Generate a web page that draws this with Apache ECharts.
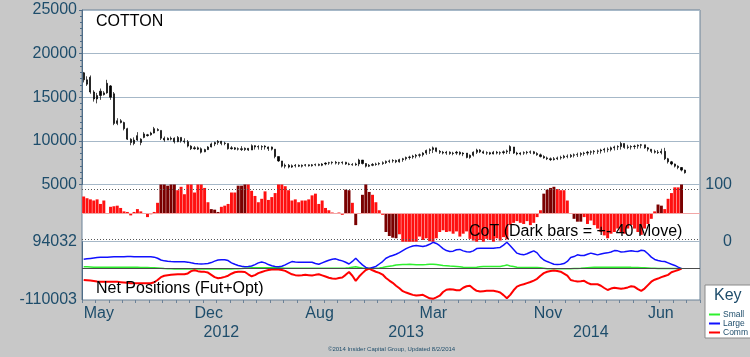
<!DOCTYPE html>
<html><head><meta charset="utf-8">
<script src="https://cdn.jsdelivr.net/npm/echarts@6/dist/echarts.min.js"></script>
<style>html,body{margin:0;padding:0;background:#c8c8c8;}#c{width:750px;height:357px;}</style>
</head><body><div id="c"></div>
<script>
// ---------- data ----------
const categoryCount = 184; // weekly slots (last ones empty)
const weeks = [];
for (let i = 0; i < categoryCount; i++) {
  weeks.push(new Date(Date.UTC(2011, 4, 3 + 7 * i)).toISOString().slice(0, 10));
}
const monthTickIndex = [0, 33, 66, 100, 134, 168];
const monthTickText = ['May', 'Dec', 'Aug', 'Mar', 'Nov', 'Jun'];
const yearTickIndex = [41, 96, 151];
const yearTickText = ['2012', '2013', '2014'];
const priceTicks = [5000, 10000, 15000, 20000, 25000];
const netTickValues = [-110003, 94032];

const priceOpen = [
17800,17000,17300,15600,14800,15200,15300,15500,16300,15400,
12000,12300,12100,11400,10200,9700,10100,9800,10400,10600,
10700,10900,11300,11200,10300,10100,10300,10300,9900,10400,
10000,9900,9400,9100,9200,9100,8750,9000,9300,9650,
9800,9950,9700,9700,9100,9200,9050,9100,9000,9150,
8950,9450,9300,9350,9300,9300,9300,9050,8200,7700,
7100,7200,7000,7150,7200,7100,7200,7250,7150,7250,
7300,7200,7350,7450,7500,7550,7450,7500,7550,7350,
7300,7250,7350,7800,7400,7100,7200,7300,7350,7400,
7500,7650,7700,7750,7600,7850,7950,8100,8150,8250,
8350,8400,8600,8900,9000,9200,8800,8700,8600,8700,
8550,8600,8700,8500,8600,8100,8350,8700,8950,8750,
8600,8650,8500,8700,8600,8650,8750,8850,9300,8600,
8500,8600,8650,8700,8750,8550,8400,8200,8050,7950,
7850,7950,8050,8100,8250,8200,8350,8400,8450,8550,
8600,8700,8750,8800,8850,8950,9050,9000,9200,9300,
9350,9700,9250,9300,9350,9400,9500,9550,9200,9050,
8800,8700,8650,8800,7950,7600,7350,7100,6950,6650];
const priceClose = [
17000,16500,15600,14800,15200,15700,15500,16600,15000,12000,
12300,12100,11400,10200,9800,10100,10600,10200,10800,10700,
10900,11400,11200,10300,10100,10300,10200,9900,10400,10000,
9900,9400,9100,9200,9050,8700,9000,9300,9650,9800,
9950,9700,9750,9100,9200,9050,9100,9000,9150,8950,
9450,9300,9350,9300,9400,9100,9050,8200,7700,7100,
7200,7000,7150,7200,7100,7200,7250,7150,7250,7300,
7200,7350,7450,7500,7550,7450,7500,7550,7350,7300,
7250,7350,7800,7400,7100,7200,7300,7350,7400,7500,
7650,7700,7750,7600,7850,7950,8100,8150,8250,8350,
8400,8600,8900,9000,9200,8800,8700,8600,8700,8550,
8600,8700,8500,8600,8100,8350,8700,8950,8750,8600,
8650,8500,8700,8600,8650,8750,8850,9350,8600,8500,
8600,8650,8700,8750,8550,8400,8200,8050,7950,7850,
7950,8050,8100,8250,8200,8350,8400,8450,8550,8600,
8700,8750,8800,8850,8950,9050,9000,9200,9300,9350,
9700,9250,9300,9350,9400,9500,9550,9200,9050,8800,
8700,8650,8800,7950,7600,7350,7100,6950,6650,6350];
const priceLow = [
16700,16300,15400,14500,14300,14700,15200,15400,14700,11800,
11800,12000,11200,10100,9500,9500,10000,9500,10300,10500,
10600,10850,11100,10100,9900,10100,10050,9700,9850,9800,
9700,9250,8950,9000,8950,8550,8700,8950,9250,9400,
9550,9500,9500,9000,9000,8950,8900,8850,8850,8850,
8950,9000,9000,8950,9000,8850,8900,8000,7600,6950,
6850,6850,6900,6950,7000,6950,7050,7050,7050,7100,
7100,7100,7200,7250,7300,7300,7250,7300,7250,7200,
7150,7150,7100,7300,6950,7000,7100,7150,7200,7250,
7350,7450,7500,7450,7500,7600,7750,7850,7950,8000,
8100,8200,8400,8500,8600,8700,8500,8450,8400,8400,
8350,8400,8350,8250,8000,7950,8200,8500,8600,8500,
8400,8400,8450,8450,8400,8450,8500,8500,8500,8350,
8350,8400,8450,8500,8450,8300,8100,7950,7800,7700,
7750,7800,7850,7950,8000,8050,8100,8150,8200,8300,
8350,8400,8450,8500,8550,8650,8700,8800,8900,8950,
9000,9100,9050,9000,9050,9100,9150,9100,8800,8600,
8550,8500,8450,7800,7400,7200,6950,6750,6500,6250];
const priceHigh = [
17900,17400,17500,15800,15500,16000,15700,17000,16400,15600,
12600,12500,12200,11500,10300,10400,11000,10300,11000,10800,
11050,11600,11450,11200,10500,10400,10500,10400,10550,10400,
10300,10100,9500,9400,9350,9250,9100,9400,9800,9900,
10100,10000,9900,9700,9400,9300,9250,9400,9250,9150,
9600,9500,9500,9500,9500,9350,9350,9050,8200,7700,
7400,7350,7300,7350,7300,7300,7350,7300,7350,7400,
7400,7450,7550,7600,7650,7700,7600,7650,7600,7500,
7450,7500,7950,7800,7450,7350,7450,7500,7550,7650,
7750,7850,7900,7850,7950,8050,8200,8300,8400,8500,
8550,8700,9000,9150,9350,9200,8950,8850,8850,8800,
8750,8850,8800,8700,8600,8450,8800,9100,9050,8900,
8800,8750,8850,8850,8800,8900,9000,9500,9300,8750,
8700,8800,8850,8900,8850,8700,8550,8350,8200,8100,
8150,8200,8300,8400,8450,8500,8550,8650,8700,8750,
8850,8900,8950,9000,9100,9200,9250,9350,9450,9500,
9900,9700,9550,9500,9550,9600,9650,9550,9300,9050,
9000,8950,9100,9200,8050,7700,7400,7200,7000,6700];

// CoT index (0-100), bars drawn from the 50 line
const cotIndex = [
79,76,74,72,74,66,72,50,61,62,
63,59,53,52,46,52,57,53,49,43,
48,52,68,100,100,98,100,100,90,96,
83,100,100,86,100,100,94,69,57,56,
52,61,63,66,86,86,98,98,100,100,
89,80,69,75,88,73,78,85,100,100,
97,90,72,74,69,72,72,74,81,84,
66,72,59,55,51,49,51,47,91,90,
68,29,49,82,100,87,82,69,55,47,
17,10,7,6,13,0,0,0,0,0,
9,3,6,1,0,6,17,20,17,18,
14,18,9,14,18,5,2,0,3,0,
5,3,0,6,2,8,4,29,33,36,
33,31,36,29,33,43,55,84,91,94,
96,92,90,90,72,50,40,35,35,43,
31,37,29,23,17,11,6,14,17,23,
17,14,23,29,23,17,12,23,31,40,
53,65,63,57,75,85,95,95,100,null];
// weeks whose CoT move was +-40 (dark bars)
const cotDarkWeeks = [23,24,25,26,27,38,39,40,46,47,48,78,79,81,83,84,85,90,91,92,93,137,138,139,140,146,147,148,171,172,178];

const netLarge = [
32500,34000,35500,37000,38500,39400,39500,40000,40500,41000,
41500,41500,41500,41800,42000,41500,41500,41500,41500,41500,
41000,40000,36000,30000,27000,25500,24500,24000,24000,24000,
23500,22500,20000,18000,16500,16000,16500,18000,21000,26000,
30000,31000,31000,28000,20000,15000,11000,8000,6500,7000,
9000,14000,20000,23000,20000,14000,10000,7500,6500,8000,
12800,19000,24500,23000,22000,22000,22000,22000,22000,18000,
15000,20000,24500,29000,32500,34000,30000,27000,22000,16000,
25000,36000,24000,12800,4000,500,4000,7500,16000,24500,
36000,42000,46000,50000,56000,63000,70000,75000,79000,80500,
79000,77000,80000,85000,92000,88000,80000,70000,63000,60000,
61000,66000,67000,62000,59000,58000,62000,70000,71000,71000,
71000,71000,71500,72500,74000,82000,92000,80000,67000,54000,
50000,48000,52000,57000,62000,55000,40000,30000,24500,20000,
15000,14500,15000,17500,25000,38500,42000,48000,46000,45500,
50000,54000,51000,48000,51000,53700,55000,58000,63000,62000,
58000,59000,61000,62000,60500,60000,64000,62000,52000,40000,
32000,28000,26000,24500,20000,15000,11000,5000,0,null];
const netComm = [
-40000,-41000,-42000,-43500,-45000,-46000,-46000,-46000,-46000,-46000,
-46500,-47500,-48500,-50000,-51000,-51600,-51600,-51600,-51600,-51600,
-51600,-48000,-40000,-30000,-25000,-23000,-22000,-21000,-20000,-19500,
-20000,-17000,-9000,-6000,-9000,-11000,-11500,-14000,-22000,-30000,
-34000,-32000,-29000,-25000,-18000,-13000,-11000,-11000,-12000,-20000,
-27000,-23000,-16000,-12000,-8000,-5000,-3500,-2500,-3000,-5000,
-8000,-14000,-20000,-23000,-24500,-23500,-22000,-23000,-24500,-22000,
-20000,-24000,-28000,-32000,-35000,-36000,-33000,-31000,-22000,-12000,
-25000,-43000,-28000,-16000,-5000,0,-6000,-11000,-15000,-21000,
-33000,-42000,-50000,-60000,-69000,-79000,-84000,-88000,-92000,-94500,
-93000,-92000,-98000,-104000,-106000,-101000,-95000,-82000,-74000,-72000,
-73000,-76000,-76000,-67000,-62000,-60000,-70000,-78000,-80000,-79000,
-78000,-78000,-78000,-80000,-84000,-93000,-104000,-92000,-76000,-63000,
-58000,-55000,-51000,-47000,-42000,-36000,-25000,-16000,-11000,-8500,
-7000,-8500,-11000,-18000,-25000,-40000,-43000,-45500,-44500,-43000,
-50000,-55000,-55000,-55000,-60000,-68000,-75000,-70000,-67000,-69000,
-71000,-69000,-66000,-62000,-64000,-72000,-78000,-70000,-58000,-46000,
-39000,-35000,-30000,-26000,-22000,-13000,-9000,-5000,0,null];
const netSmall = [
6500,6000,5500,5000,4800,4500,4500,4500,4500,4500,
4500,4500,4500,4500,4500,4500,4500,4000,4000,3500,
3000,2500,2000,1000,0,-500,-1000,-1500,-1500,-1500,
-1500,-1500,-1500,-1500,-1500,-1500,-1500,-1500,-1500,-1500,
-1500,-1500,-1500,-1500,-1500,-1000,-500,0,1000,2000,
2500,2500,2500,2500,2500,2500,2500,2500,2500,2000,
1500,1000,1000,1000,1000,1000,1000,1000,1000,1000,
1000,1000,1000,1000,1000,1000,1000,1500,2000,3000,
5000,6000,4000,2000,500,0,500,1000,2000,3500,
6000,8000,10000,12800,13500,14000,14500,15000,14000,13000,
13000,13500,14000,15000,15000,14000,12500,11000,10000,9000,
8500,7500,6500,5000,4000,3500,3500,4500,6000,7000,
7000,7000,7000,7000,7500,9500,12800,9000,7000,5000,
4000,3500,3500,3500,3500,3500,2500,1000,-500,-1000,
-1000,-1000,-1000,-1000,-1000,-500,0,500,1000,2000,
3000,4000,4700,4700,4700,4700,4700,4700,4700,4700,
4700,4700,4500,4200,4000,3500,3000,2500,2000,1500,
1000,500,500,0,0,0,0,0,0,null];

// ---------- chart ----------
const FONT = 'Liberation Sans, Arial, sans-serif';
const AXC = '#1e4d6b';
const plain = v => String(v);
const monthMap = new Map(monthTickIndex.map((k, j) => [weeks[k], monthTickText[j]]));
const yearMap = new Map(yearTickIndex.map((k, j) => [weeks[k], yearTickText[j]]));
const darkSet = new Set(cotDarkWeeks);

const candles = priceOpen.map((o, i) => [o, priceClose[i], priceLow[i], priceHigh[i]]);
const cotBase = cotIndex.map(v => v == null ? null : Math.min(v, 50));
const cotBars = cotIndex.map((v, i) => v == null ? null : {
  value: Math.abs(v - 50),
  itemStyle: { color: darkSet.has(i) ? '#7a0000' : '#ff1010' }
});

const chart = echarts.init(document.getElementById('c'), null, { renderer: 'canvas' });
const hiddenX = gi => ({ gridIndex: gi, type: 'category', data: weeks, show: false, axisLine: { onZero: false } });

chart.setOption({
  animation: false,
  backgroundColor: '#c8c8c8',
  textStyle: { fontFamily: FONT },
  title: [
    { text: 'COTTON', left: 96, top: 14, padding: 0, textStyle: { fontSize: 16, fontWeight: 'normal', color: '#000', fontFamily: FONT } },
    { text: 'CoT (Dark bars = +- 40 Move)', left: 469, top: 224, padding: 0, textStyle: { fontSize: 16, fontWeight: 'normal', color: '#000', fontFamily: FONT } },
    { text: 'Net Positions (Fut+Opt)', left: 96, top: 281, padding: 0, textStyle: { fontSize: 16, fontWeight: 'normal', color: '#000', fontFamily: FONT } },
    { text: 'Key', left: 714, top: 288, padding: 0, z: 10, textStyle: { fontSize: 16, fontWeight: 'normal', color: AXC, fontFamily: FONT } },
    { text: '©2014 Insider Capital Group, Updated 8/2/2014', left: 328, top: 346, padding: 0, textStyle: { fontSize: 6, fontWeight: 'normal', color: AXC, fontFamily: FONT } }
  ],
  legend: {
    data: ['Small', 'Large', 'Comm'], orient: 'vertical', left: 705, top: 285,
    padding: [25, 4, 1, 4], itemGap: 0, itemWidth: 11, itemHeight: 2, icon: 'rect',
    backgroundColor: '#fff', borderColor: '#8a8a8a', borderWidth: 1,
    textStyle: { fontSize: 8.5, color: AXC, fontFamily: FONT, lineHeight: 9, padding: [0, 0, 0, -2] }
  },
  grid: [
    { left: 82, right: 50, top: 10, height: 174.5 },
    { left: 82, right: 50, top: 184.5, height: 57.2 },
    { left: 82, right: 50, top: 241.7, height: 58.3 },
    { left: 82, right: 50, top: 10, bottom: 57, show: true, z: -1, backgroundColor: '#fff', borderColor: '#6b8298', borderWidth: 1 }
  ],
  xAxis: [
    hiddenX(0), hiddenX(1),
    { gridIndex: 2, type: 'category', data: weeks, position: 'bottom',
      axisLine: { show: false, onZero: false },
      axisTick: { show: true, interval: 3, length: 3, lineStyle: { color: '#6b8298' } },
      axisLabel: { interval: (i, v) => monthMap.has(v), formatter: v => monthMap.get(v) || '',
        align: 'left', margin: 6, color: AXC, fontSize: 16, fontFamily: FONT } },
    { gridIndex: 2, type: 'category', data: weeks, position: 'bottom', offset: 0,
      axisLine: { show: false, onZero: false }, axisTick: { show: false },
      axisLabel: { interval: (i, v) => yearMap.has(v), formatter: v => yearMap.get(v) || '',
        align: 'center', margin: 25, color: AXC, fontSize: 16, fontFamily: FONT } },
    hiddenX(3)
  ],
  yAxis: [
    { gridIndex: 0, type: 'value', min: priceTicks[0], max: priceTicks[priceTicks.length - 1], interval: 5000,
      axisLine: { show: true, lineStyle: { color: '#4f6d88' } },
      axisTick: { show: true, length: 3, lineStyle: { color: '#4f6d88' } },
      minorTick: { show: true, splitNumber: 7, length: 2, lineStyle: { color: '#4f6d88' } },
      splitLine: { show: true, lineStyle: { color: '#a6b8c8', width: 1 } },
      axisLabel: { formatter: plain, margin: 5, color: AXC, fontSize: 16, fontFamily: FONT } },
    { gridIndex: 1, type: 'value', min: 0, max: 100, interval: 100, position: 'right',
      axisLine: { show: false }, axisTick: { show: false },
      splitLine: { show: true, lineStyle: { color: '#a6b8c8', width: 1 } },
      axisLabel: { formatter: plain, align: 'right', margin: 32, color: AXC, fontSize: 16, fontFamily: FONT } },
    { gridIndex: 2, type: 'value', min: netTickValues[0], max: netTickValues[1],
      axisLine: { show: true, lineStyle: { color: '#4f6d88' } }, axisTick: { show: false },
      splitLine: { show: false },
      axisLabel: { customValues: netTickValues, formatter: plain, margin: 5, color: AXC, fontSize: 16, fontFamily: FONT } },
    { gridIndex: 3, type: 'value', show: false }
  ],
  series: [
    { name: 'Price', type: 'candlestick', xAxisIndex: 0, yAxisIndex: 0, data: candles,
      barWidth: 1.6,
      itemStyle: { color: '#000', color0: '#000', borderColor: '#000', borderColor0: '#000', borderWidth: 0.7 } },
    { name: 'CoT base', type: 'bar', xAxisIndex: 1, yAxisIndex: 1, stack: 'cot', data: cotBase,
      barCategoryGap: '12%', itemStyle: { color: 'rgba(0,0,0,0)' }, silent: true },
    { name: 'CoT', type: 'bar', xAxisIndex: 1, yAxisIndex: 1, stack: 'cot', data: cotBars,
      barCategoryGap: '12%',
      markLine: { symbol: 'none', silent: true, label: { show: false },
        lineStyle: { type: [1, 2], color: '#555', width: 1 },
        data: [{ yAxis: 91 }, { yAxis: 4 }, { yAxis: 50, lineStyle: { type: 'solid', color: '#f2a6a6', width: 1 } }] } },
    { name: 'Small', type: 'line', xAxisIndex: 2, yAxisIndex: 2, data: netSmall, showSymbol: false,
      color: '#2ef02e', lineStyle: { width: 1.5 },
      markLine: { symbol: 'none', silent: true, label: { show: false },
        lineStyle: { type: 'solid', color: '#4a4a4a', width: 1 }, data: [{ yAxis: 0 }] } },
    { name: 'Large', type: 'line', xAxisIndex: 2, yAxisIndex: 2, data: netLarge, showSymbol: false,
      color: '#1010ff', lineStyle: { width: 1.5 } },
    { name: 'Comm', type: 'line', xAxisIndex: 2, yAxisIndex: 2, data: netComm, showSymbol: false,
      color: '#ff0000', lineStyle: { width: 2 } }
  ]
});
</script>
</body></html>
